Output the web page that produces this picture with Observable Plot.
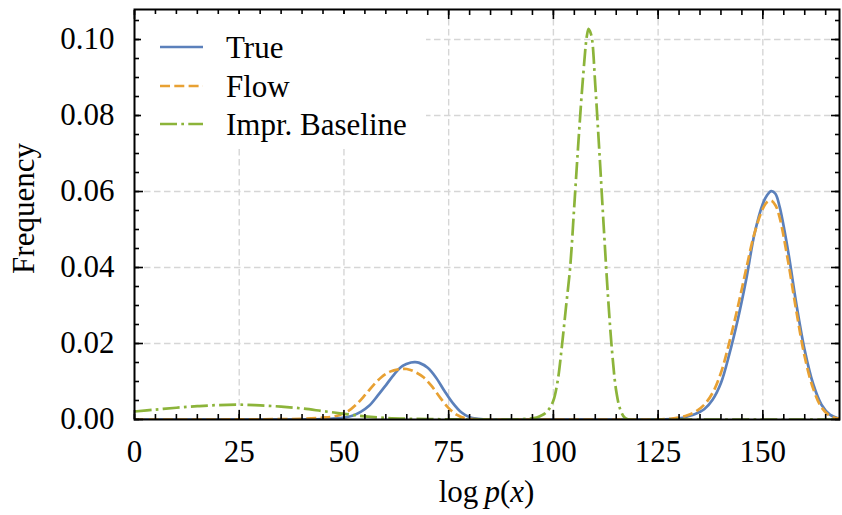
<!DOCTYPE html>
<html>
<head>
<meta charset="utf-8">
<script src="https://cdn.jsdelivr.net/npm/d3@7"></script>
<script src="https://cdn.jsdelivr.net/npm/@observablehq/plot@0.6"></script>
<style>
  html, body { margin: 0; padding: 0; background: #fff; }
  #wrap { position: relative; width: 842px; height: 515px; font-family: "Liberation Serif", serif; color: #000; }
  #legend { position: absolute; left: 141px; top: 14px; width: 285px; height: 133px; background: #fff; }
  .lg-item { position: absolute; left: 0; height: 31px; font-size: 31px; line-height: 31px; white-space: nowrap; }
  .lg-item svg { position: absolute; left: 19px; top: 15px; overflow: visible; }
  .lg-item span { position: absolute; left: 85px; top: 0; }
  #xlabel { position: absolute; left: 134px; width: 705px; top: 476px; text-align: center; font-size: 31px; line-height: 31px; }
  #ylabel { position: absolute; left: 23px; top: 208px; width: 300px; height: 31px; margin-left: -150px; margin-top: -15.5px;
            transform: rotate(-90deg); text-align: center; font-size: 31px; line-height: 31px; }
</style>
</head>
<body>
<div id="wrap"></div>
<script>
// ---- Data ----
const seriesNames = ["True", "Flow", "Impr. Baseline"];
const seriesColors = ["#5b80bb", "#e8a133", "#8cb43a"];
const seriesDash = [null, "10,4.3", "17,4.3,2.7,4.3"];

const trueX = [0, 20, 40, 45, 50, 52, 54, 56, 58, 60, 62, 64, 66, 67, 68, 70, 72, 74, 76, 78, 80, 82, 85, 100, 120, 125, 128, 130, 132, 134, 136, 138, 140, 142, 144, 146, 148, 150, 151, 152, 153, 154, 156, 158, 160, 162, 164, 166, 168.3];
const trueY = [0, 0, 0, 0.0001, 0.0005, 0.0010, 0.0020, 0.0036, 0.0062, 0.0090, 0.0119, 0.0141, 0.0150, 0.0151, 0.0149, 0.0136, 0.0110, 0.0075, 0.0043, 0.0019, 0.0006, 0.0002, 0, 0, 0, 0, 0.0001, 0.0003, 0.0008, 0.0015, 0.0027, 0.0052, 0.0096, 0.0172, 0.0262, 0.0367, 0.0488, 0.0568, 0.0590, 0.0601, 0.0594, 0.0560, 0.0445, 0.0304, 0.0182, 0.0094, 0.0039, 0.0013, 0.0002];

const flowX = [0, 20, 30, 40, 45, 47, 49, 51, 53, 55, 57, 59, 61, 63, 65, 67, 69, 71, 73, 75, 77, 79, 81, 85, 100, 120, 125, 128, 130, 132, 134, 136, 138, 140, 142, 144, 146, 148, 150, 151, 152, 153, 154, 156, 158, 160, 162, 164, 166, 168.3];
const flowY = [0, 0, 0.00005, 0.0002, 0.0005, 0.0007, 0.0012, 0.0022, 0.0040, 0.0064, 0.0090, 0.0112, 0.0126, 0.0132, 0.0133, 0.0125, 0.0111, 0.0087, 0.0057, 0.0030, 0.0012, 0.0003, 0.0001, 0, 0, 0, 0, 0.0002, 0.0005, 0.0011, 0.0021, 0.0039, 0.0070, 0.0123, 0.0203, 0.0295, 0.0395, 0.0490, 0.0555, 0.0572, 0.0576, 0.0564, 0.0532, 0.0418, 0.0285, 0.0165, 0.0082, 0.0032, 0.0010, 0.0002];

const baseX = [0, 5, 10, 15, 20, 25, 30, 35, 40, 45, 50, 55, 60, 65, 70, 75, 80, 90, 94, 96, 97, 98, 99, 100, 101, 102, 103, 104, 105, 106, 107, 108, 108.4, 108.8, 109.2, 110, 111, 112, 113, 114, 115, 116, 117, 118, 130, 150, 168.3];
const baseY = [0.0021, 0.0026, 0.0031, 0.0035, 0.0038, 0.0039, 0.0037, 0.0034, 0.0029, 0.0022, 0.0015, 0.0008, 0.0004, 0.0002, 0.0001, 0.00005, 0, 0, 0.0002, 0.0005, 0.0010, 0.0016, 0.0028, 0.0050, 0.0100, 0.0190, 0.0295, 0.0400, 0.0565, 0.0735, 0.0890, 0.1010, 0.1028, 0.1020, 0.1003, 0.0880, 0.0700, 0.0510, 0.0330, 0.0180, 0.0075, 0.0025, 0.0005, 0, 0, 0, 0];

const xTickValues = [0, 25, 50, 75, 100, 125, 150];
const yTickValues = [0.00, 0.02, 0.04, 0.06, 0.08, 0.10];
const xLabel = "log p(x)";
const yLabel = "Frequency";

// ---- Build tables ----
const seriesXs = [trueX, flowX, baseX];
const seriesYs = [trueY, flowY, baseY];
const tables = seriesNames.map((name, i) => seriesXs[i].map((x, j) => ({x, y: seriesYs[i][j], series: name})));

const xMinor = d3.range(0, 168.3, 5);
const yMinor = d3.range(0, 0.1079, 0.005);

const gridStyle = {stroke: "#d6d6d6", strokeOpacity: 1, strokeWidth: 1.4, strokeDasharray: "6.5,3.5"};
const tickStyle = {stroke: "black", strokeWidth: 1.6, fill: "none", label: null};

const plot = Plot.plot({
  width: 842,
  height: 515,
  marginLeft: 134,
  marginRight: 3,
  marginTop: 9,
  marginBottom: 96,
  x: {domain: [0, 168.3]},
  y: {domain: [0, 0.1079]},
  style: {fontFamily: "'Liberation Serif', serif", fontSize: "31px", color: "black", background: "white"},
  marks: [
    Plot.gridX(xTickValues.slice(1), gridStyle),
    Plot.gridY(yTickValues.slice(1), gridStyle),
    ...tables.map((t, i) => Plot.line(t, {
      x: "x", y: "y", stroke: seriesColors[i], strokeWidth: 2.7,
      strokeDasharray: seriesDash[i], strokeLinecap: "butt",
      curve: "catmull-rom", clip: true
    })),
    // inward ticks on all four sides
    Plot.axisX(xMinor, {anchor: "bottom", tickSize: 5, dy: -5, ...tickStyle}),
    Plot.axisX(xTickValues, {anchor: "bottom", tickSize: 9, dy: -9, ...tickStyle}),
    Plot.axisX(xMinor, {anchor: "top", tickSize: 5, dy: 5, ...tickStyle}),
    Plot.axisX(xTickValues, {anchor: "top", tickSize: 9, dy: 9, ...tickStyle}),
    Plot.axisY(yMinor, {anchor: "left", tickSize: 5, dx: 5, ...tickStyle}),
    Plot.axisY(yTickValues, {anchor: "left", tickSize: 9, dx: 9, ...tickStyle}),
    Plot.axisY(yMinor, {anchor: "right", tickSize: 5, dx: -5, ...tickStyle}),
    Plot.axisY(yTickValues, {anchor: "right", tickSize: 9, dx: -9, ...tickStyle}),
    // tick labels
    Plot.axisX(xTickValues, {anchor: "bottom", tickSize: 0, tickPadding: 20, label: null, tickFormat: d => String(d), fill: "black"}),
    Plot.axisY(yTickValues, {anchor: "left", tickSize: 0, tickPadding: 20, label: null, tickFormat: d => d.toFixed(2), fill: "black"}),
    Plot.frame({stroke: "black", strokeWidth: 2})
  ]
});

const wrap = document.getElementById("wrap");
wrap.appendChild(plot);

// legend
const legend = document.createElement("div");
legend.id = "legend";
seriesNames.forEach((name, i) => {
  const item = document.createElement("div");
  item.className = "lg-item";
  item.style.top = (18 + 38.5 * i) + "px";
  const svg = d3.create("svg").attr("width", 43).attr("height", 4);
  svg.append("line").attr("x1", 0).attr("x2", 43).attr("y1", 0).attr("y2", 0)
    .attr("stroke", seriesColors[i]).attr("stroke-width", 2.7)
    .attr("stroke-dasharray", seriesDash[i]);
  item.appendChild(svg.node());
  const span = document.createElement("span");
  span.textContent = name;
  item.appendChild(span);
  legend.appendChild(item);
});
wrap.appendChild(legend);

// axis labels
const xl = document.createElement("div");
xl.id = "xlabel";
xl.innerHTML = "log&thinsp;<i>p</i>(<i>x</i>)";
wrap.appendChild(xl);
const yl = document.createElement("div");
yl.id = "ylabel";
yl.textContent = yLabel;
wrap.appendChild(yl);
</script>
</body>
</html>
